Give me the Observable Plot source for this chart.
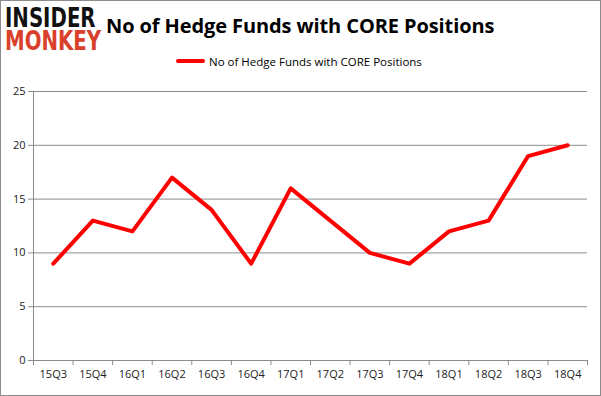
<!DOCTYPE html>
<html><head><meta charset="utf-8">
<script src="https://cdn.jsdelivr.net/npm/d3@7"></script>
<script src="https://cdn.jsdelivr.net/npm/@observablehq/plot@0.6"></script>
<style>
html,body{margin:0;padding:0;background:#fff;}
#wrap{position:relative;width:601px;height:396px;box-sizing:border-box;overflow:hidden;}
#frame{position:absolute;left:0;top:0;width:601px;height:396px;box-sizing:border-box;border:1px solid #8c8c8c;pointer-events:none;}
#title{position:absolute;left:106px;top:11.5px;font-family:"Open Sans",sans-serif;font-weight:bold;font-size:20px;line-height:normal;color:#000;white-space:nowrap;letter-spacing:-0.1px;}
#legend{position:absolute;left:176px;top:53px;height:16px;font-family:"Open Sans",sans-serif;font-size:11.5px;color:#000;white-space:nowrap;display:flex;align-items:center;}
#legend span.sw{display:inline-block;width:29px;height:4px;background:#ff0000;border-radius:2px;margin-right:4px;}
#logo{position:absolute;left:5px;top:6.5px;font-family:"DejaVu Sans",sans-serif;font-weight:bold;line-height:23px;font-size:26px;transform:scale(0.76,1);transform-origin:0 0;white-space:nowrap;}
#logo .a{color:#111;}
#logo .b{color:#d9412b;}
svg{position:absolute;left:0;top:0;}
</style></head>
<body>
<div id="wrap">
<div id="chart"></div>
<div id="logo"><div class="a">INSIDER</div><div class="b">MONKEY</div></div>
<div id="title">No of Hedge Funds with CORE Positions</div>
<div id="legend"><span class="sw"></span>No of Hedge Funds with CORE Positions</div>
<div id="frame"></div>
</div>
<script>
const quarters = ["15Q3","15Q4","16Q1","16Q2","16Q3","16Q4","17Q1","17Q2","17Q3","17Q4","18Q1","18Q2","18Q3","18Q4"];
const funds = [9,13,12,17,14,9,16,13,10,9,12,13,19,20];
const yTicks = [0,5,10,15,20,25];

const data = quarters.map((q,i)=>({q, i, pos: i+0.5, v: funds[i]}));
const boundaries = d3.range(0, quarters.length+1);

const chart = Plot.plot({
  width: 601, height: 396,
  marginLeft: 33, marginRight: 14, marginTop: 91, marginBottom: 36,
  style: {fontFamily: "'Open Sans', sans-serif", fontSize: "11px", color: "#222", background: "transparent"},
  x: {type: "linear", domain: [0, quarters.length], axis: null},
  y: {domain: [0, 25], axis: null},
  marks: [
    Plot.ruleY(yTicks.filter(t=>t>0), {stroke: "#8c8c8c", strokeWidth: 1}),
    Plot.ruleY([0], {stroke: "#8c8c8c", strokeWidth: 1}),
    Plot.ruleX([0], {stroke: "#8c8c8c", strokeWidth: 1}),
    Plot.axisY({ticks: yTicks, tickSize: 5, tickPadding: 3, stroke: "#8c8c8c", fill: "#222", label: null}),
    Plot.axisX({ticks: boundaries, tickSize: 5, tickFormat: () => "", stroke: "#8c8c8c", label: null}),
    Plot.text(data, {x: "pos", text: "q", frameAnchor: "bottom", dy: 17, fill: "#222"}),
    Plot.line(data, {x: "pos", y: "v", stroke: "#ff0000", strokeWidth: 4, strokeLinejoin: "round", strokeLinecap: "round"})
  ]
});
document.getElementById("chart").appendChild(chart);
</script>
</body></html>
